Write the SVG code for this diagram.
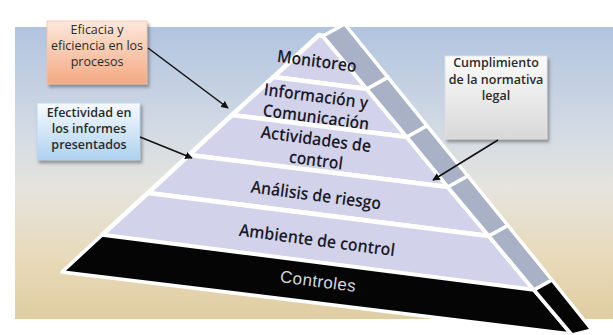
<svg xmlns="http://www.w3.org/2000/svg" width="613" height="335" viewBox="0 0 613 335">
<defs>
<linearGradient id="bg" x1="0" y1="27" x2="0" y2="319" gradientUnits="userSpaceOnUse">
<stop offset="0" stop-color="#b1c4df"/>
<stop offset="0.35" stop-color="#d2dae4"/>
<stop offset="0.55" stop-color="#e5e4dd"/>
<stop offset="0.8" stop-color="#e8d9b8"/>
<stop offset="1" stop-color="#e0cda2"/>
</linearGradient>
<linearGradient id="gOrange" x1="0" y1="0" x2="0" y2="1">
<stop offset="0" stop-color="#fde8dc"/>
<stop offset="1" stop-color="#f4a982"/>
</linearGradient>
<linearGradient id="gBlue" x1="0" y1="0" x2="0" y2="1">
<stop offset="0" stop-color="#f7fbff"/>
<stop offset="1" stop-color="#aed1ef"/>
</linearGradient>
<linearGradient id="gGray" x1="0" y1="0" x2="0" y2="1">
<stop offset="0" stop-color="#fcfcfc"/>
<stop offset="1" stop-color="#d8d8d8"/>
</linearGradient>
<filter id="shadow" x="-10%" y="-10%" width="125%" height="130%">
<feDropShadow dx="2" dy="3" stdDeviation="1.5" flood-color="#555" flood-opacity="0.55"/>
</filter>
<marker id="arrow" viewBox="0 0 10 10" refX="9" refY="5" markerWidth="5" markerHeight="5" orient="auto" markerUnits="strokeWidth">
<path d="M0,0 L10,5 L0,10 z" fill="#111"/>
</marker>
<style>
.face{fill:#d2d3ea;stroke:#fff;stroke-width:4.5;stroke-linejoin:round}
.side{fill:#a8b1c5;stroke:#fff;stroke-width:3.5;stroke-linejoin:round}
.dark{fill:#050505;stroke:#fff;stroke-width:3.5;stroke-linejoin:round}
.lbl{font-family:"Open Sans","DejaVu Sans",sans-serif;font-size:17px;font-weight:600;fill:#1a1a26;text-anchor:middle}
.lblw{font-family:"Liberation Sans",Arial,sans-serif;font-size:17px;fill:#d6d6d6;text-anchor:middle}
.box{font-family:"Open Sans","DejaVu Sans",sans-serif;font-size:12.5px;fill:#2a2a2a;text-anchor:middle}
.conn{stroke:#111;stroke-width:1.5;fill:none;marker-end:url(#arrow)}
</style>
</defs>
<rect x="0" y="0" width="613" height="335" fill="#ffffff"/>
<rect x="15" y="27" width="598" height="292" fill="url(#bg)"/>

<g id="monitoreo">
<polygon class="face" points="319,35 323,36 367,89 273.5,77"/>
<polygon class="side" points="323,36 344.6,24 387.9,77.4 367,89"/>
<text class="lbl" transform="translate(317,61) rotate(7.5)" y="6" textLength="80" lengthAdjust="spacingAndGlyphs">Monitoreo</text>
</g>
<g id="informacion">
<polygon class="face" points="273.5,77 367,89 407,137 232,115"/>
<polygon class="side" points="367,89 387.9,77.4 427.1,125.8 407,137"/>
<text class="lbl" transform="translate(316,96) rotate(7.5)" y="6" textLength="105" lengthAdjust="spacingAndGlyphs">Información y</text>
<text class="lbl" transform="translate(316,117) rotate(7.5)" y="6" textLength="107" lengthAdjust="spacingAndGlyphs">Comunicación</text>
</g>
<g id="actividades">
<polygon class="face" points="232,115 407,137 448,187 189,155"/>
<polygon class="side" points="407,137 427.1,125.8 467.8,176 448,187"/>
<text class="lbl" transform="translate(316,139) rotate(7.5)" y="6" textLength="111" lengthAdjust="spacingAndGlyphs">Actividades de</text>
<text class="lbl" transform="translate(316,160) rotate(7.5)" y="6" textLength="54" lengthAdjust="spacingAndGlyphs">control</text>
</g>
<g id="analisis">
<polygon class="face" points="189,155 448,187 489,236 148,193"/>
<polygon class="side" points="448,187 467.8,176 507.9,225.5 489,236"/>
<text class="lbl" transform="translate(316,195) rotate(7.5)" y="6" textLength="131" lengthAdjust="spacingAndGlyphs">Análisis de riesgo</text>
</g>
<g id="ambiente">
<polygon class="face" points="148,193 489,236 534,290 102,235"/>
<polygon class="side" points="489,236 507.9,225.5 552,280 534,290"/>
<text class="lbl" transform="translate(317,240) rotate(7.5)" y="6" textLength="157" lengthAdjust="spacingAndGlyphs">Ambiente de control</text>
</g>
<g id="controles">
<polygon class="dark" points="102,235 534,290 571,334 62,272"/>
<polygon class="dark" points="534,290 552,280 592,330 572,335"/>
<text class="lblw" transform="translate(318,281) rotate(7.5)" y="6" textLength="76">Controles</text>
</g>

<g id="box-eficacia">
<rect x="47" y="21" width="100" height="63" fill="url(#gOrange)" stroke="#efc4aa" stroke-width="0.8" filter="url(#shadow)"/>
<text class="box" x="97" y="34">Eficacia y</text>
<text class="box" x="97" y="50">eficiencia en los</text>
<text class="box" x="97" y="66">procesos</text>
</g>
<g id="box-efectividad">
<rect x="37" y="103" width="103" height="57" fill="url(#gBlue)" stroke="#b9d3ea" stroke-width="0.8" filter="url(#shadow)"/>
<text class="box" x="89" y="117" font-weight="600">Efectividad en</text>
<text class="box" x="89" y="133" font-weight="600">los informes</text>
<text class="box" x="89" y="149" font-weight="600">presentados</text>
</g>
<g id="box-cumplimiento">
<rect x="445" y="56" width="102" height="83" fill="url(#gGray)" stroke="#e2e2e2" stroke-width="0.8" filter="url(#shadow)"/>
<text class="box" x="496" y="67" font-weight="600">Cumplimiento</text>
<text class="box" x="496" y="84" font-weight="600">de la normativa</text>
<text class="box" x="496" y="100" font-weight="600">legal</text>
</g>

<g id="connectors">
<line class="conn" x1="148" y1="48" x2="228" y2="108"/>
<line class="conn" x1="140" y1="137" x2="192" y2="158"/>
<line class="conn" x1="498" y1="140" x2="433" y2="180"/>
</g>
</svg>
